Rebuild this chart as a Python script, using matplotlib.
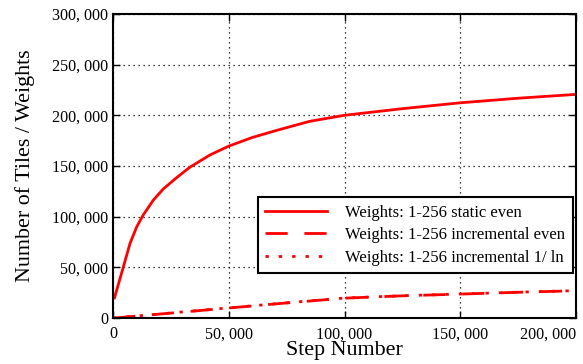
import matplotlib
matplotlib.use("Agg")
import matplotlib.pyplot as plt
from matplotlib.ticker import FuncFormatter

# step numbers and tile/weight counts
steps = [600, 4450, 7300, 10200, 13000, 17400, 21700, 27500, 33200,
         41800, 50000, 60000, 70500, 84900, 100000, 125000, 150000, 175000,
         200000]
static_even = [20000, 50600, 73600, 90000, 101600, 116400, 127400,
               138600, 148800, 160800, 169600, 178000, 185000, 194000, 200000,
               206500, 212300, 216800, 220600]

inc_steps = [0, 10000, 25000, 50000, 75000, 100000, 125000, 150000, 175000, 200000]
inc_even = [0, 2000, 5000, 10000, 15000, 19700, 22000, 23700, 25500, 27000]
inc_ln = [0, 2100, 5100, 10100, 15100, 19800, 22100, 23800, 25600, 27100]

labels = ["Weights: 1-256 static even",
          "Weights: 1-256 incremental even",
          "Weights: 1-256 incremental 1/ ln"]

plt.rcParams["font.family"] = ["Liberation Serif", "DejaVu Serif"]


def thousands(v, pos):
    if v == 0:
        return "0"
    return "{:,}".format(int(v)).replace(",", ", ")


fig = plt.figure(figsize=(5.83, 3.64), dpi=100)
ax = fig.add_axes([0.194, 0.126, 0.794, 0.836])

ax.plot(steps, static_even, color="red", lw=2, label=labels[0])
ax.plot(inc_steps, inc_even, color="red", lw=2, ls=(0, (8, 6)), label=labels[1])
ax.plot(inc_steps, inc_ln, color="red", lw=2, ls=(0, (1.2, 3.6)), label=labels[2])

ax.set_xlim(0, 200000)
ax.set_ylim(0, 300000)
ax.set_xticks([0, 50000, 100000, 150000, 200000])
ax.set_yticks(range(0, 300001, 50000))
ax.xaxis.set_major_formatter(FuncFormatter(thousands))
ax.yaxis.set_major_formatter(FuncFormatter(thousands))
ax.tick_params(direction="in", labelsize=11.6, length=5, width=1, colors="black",
               top=True, right=True)
ax.tick_params(axis="x", pad=6)
ax.grid(True, color="black", ls=(0, (1, 3)), lw=0.9)
for s in ax.spines.values():
    s.set_linewidth(1.5)

fig.canvas.draw()
ax.get_xticklabels()[-1].set_horizontalalignment("right")

ax.set_xlabel("Step Number", fontsize=15.8, labelpad=-1)
ax.set_ylabel("Number of Tiles / Weights", fontsize=15.8, labelpad=12)

leg = ax.legend(loc="lower right", bbox_to_anchor=(0.9935, 0.148), fontsize=12,
                borderaxespad=0, fancybox=False, framealpha=1, edgecolor="black",
                handlelength=3.7, handletextpad=1.1, borderpad=0.45,
                labelspacing=0.38)
leg.get_frame().set_linewidth(1.5)

fig.savefig("out.png", dpi=100)
